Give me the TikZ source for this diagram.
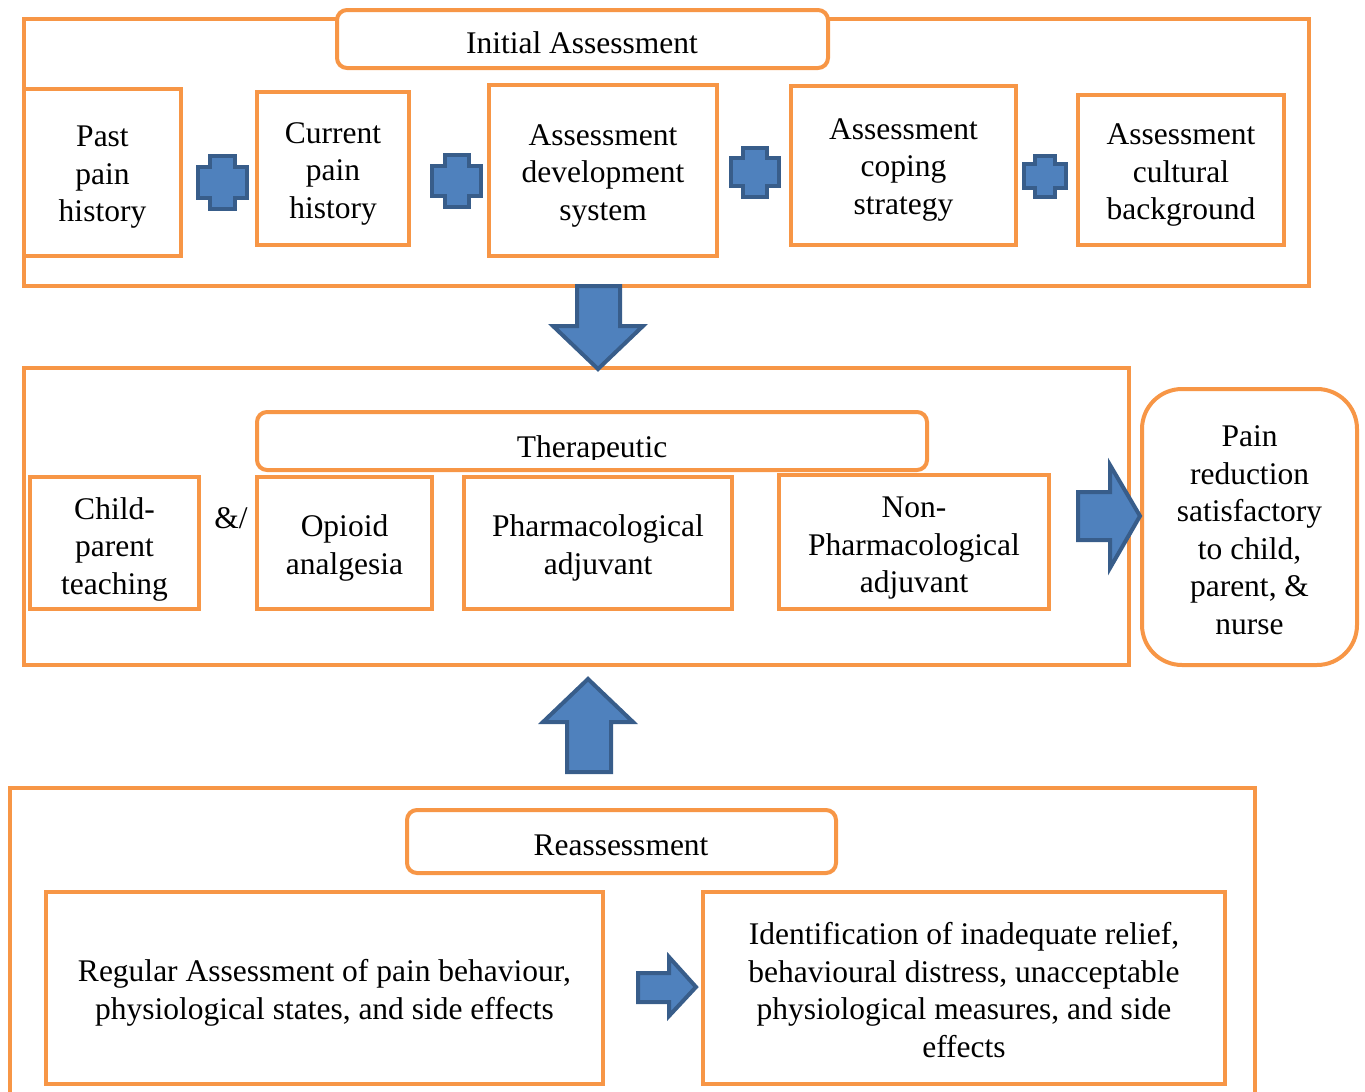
\documentclass[tikz,border=0pt]{standalone}
\usepackage{fontspec}
\setmainfont{Liberation Serif}
\definecolor{frameorange}{HTML}{F79646}
\definecolor{arrowblue}{HTML}{4F81BD}
\definecolor{arrowedge}{HTML}{385D8A}
\newcommand\boxfont{\fontsize{31.5}{37.5}\selectfont}

% rectangular box given by its corners: [text drop] name, x1, y1, x2, y2, style, text
\newcommand\cornerbox[8][5]{%
  \node[#7, minimum width={(#5)-(#3)}, minimum height={(#6)-(#4)}]
    (#2) at ({((#3)+(#5))/2},{((#4)+(#6))/2}) {};
  \node[boxtext] (#2-text) at ([yshift=-#1pt]#2.center) {#8};}

% blue plus sign: centre x, centre y, half width, half height
\newcommand\plussign[4]{%
  \pgfmathsetmacro\ax{0.49*#3}\pgfmathsetmacro\ay{0.59*#4}%
  \draw[blockarrow]
    ({#1-\ax},{#2-#4}) -- ({#1+\ax},{#2-#4}) -- ({#1+\ax},{#2-\ay})
    -- ({#1+#3},{#2-\ay}) -- ({#1+#3},{#2+\ay}) -- ({#1+\ax},{#2+\ay})
    -- ({#1+\ax},{#2+#4}) -- ({#1-\ax},{#2+#4}) -- ({#1-\ax},{#2+\ay})
    -- ({#1-#3},{#2+\ay}) -- ({#1-#3},{#2-\ay}) -- ({#1-\ax},{#2-\ay}) -- cycle;}

\begin{document}
\begin{tikzpicture}[x=1pt,y=-1pt,
  frame/.style={draw=frameorange, line width=4pt, inner sep=0pt},
  titlebox/.style={draw=frameorange, line width=4pt, fill=white, rounded corners=10pt, inner sep=0pt},
  itembox/.style={draw=frameorange, line width=4pt, fill=white, inner sep=0pt},
  roundbox/.style={itembox, rounded corners=40pt},
  boxtext/.style={inner sep=0pt, align=center, font=\boxfont},
  label/.style={font=\boxfont, inner sep=0pt, anchor=base},
  blockarrow/.style={fill=arrowblue, draw=arrowedge, line width=4pt, line join=miter}]

\useasboundingbox (0,0) rectangle (1365,1092);

% ---------- Initial assessment ----------
\cornerbox{initframe}{24}{19}{1309}{286}{frame}{}
\cornerbox{inittitle}{337}{10}{828}{68}{titlebox}{}
\node[label] (inittext) at (582,53) {Initial Assessment};

\cornerbox{past}{24}{89}{181}{256}{itembox}{Past\\pain\\history}
\cornerbox{current}{257}{92}{409}{245}{itembox}{Current\\pain\\history}
\cornerbox{develop}{489}{85}{717}{256}{itembox}{Assessment\\development\\system}
\cornerbox[4]{coping}{791}{86}{1016}{245}{itembox}{Assessment\\coping\\strategy}
\cornerbox{culture}{1078}{95}{1284}{245}{itembox}{Assessment\\cultural\\background}

\plussign{222.5}{182.5}{24.5}{26.5}
\plussign{456.5}{181}{24.5}{26}
\plussign{755}{172}{24}{24.5}
\plussign{1045}{176}{21}{20.5}

% ---------- Therapeutic ----------
\cornerbox{therframe}{24}{368}{1129}{665}{frame}{}
\cornerbox{thertitle}{257}{412}{927}{470}{titlebox}{}
\begin{scope}
  \clip (259,414) rectangle (925,459.5);
  \node[label] (thertext) at (592,457) {Therapeutic};
\end{scope}

\cornerbox[6]{teach}{30}{477}{199}{609}{itembox}{Child-\\parent\\teaching}
\node[label] (andor) at (231,528) {\&/};
\cornerbox{opioid}{257}{477}{432}{609}{itembox}{Opioid\\analgesia}
\cornerbox{pharm}{464}{477}{732}{609}{itembox}{Pharmacological\\adjuvant}
\cornerbox[6.5]{nonpharm}{779}{475}{1049}{609}{itembox}{Non-\\Pharmacological\\adjuvant}

\cornerbox[3]{outcome}{1142}{389}{1357}{665}{roundbox}{Pain\\reduction\\satisfactory\\to child,\\parent, \&\\nurse}

% ---------- Reassessment ----------
\cornerbox{reframe}{10}{788}{1255}{1100}{frame}{}
\cornerbox{retitle}{407}{810}{836}{873}{titlebox}{}
\node[label] (retext) at (621,855) {Reassessment};

\cornerbox{regular}{46}{892}{603}{1084}{itembox}{Regular Assessment of pain behaviour,\\physiological states, and side effects}
\cornerbox[2]{identify}{703}{892}{1225}{1084}{itembox}{Identification of inadequate relief,\\behavioural distress, unacceptable\\physiological measures, and side\\effects}

% ---------- block arrows ----------
% initial assessment down to therapeutic
\draw[blockarrow] (577,286) -- (620,286) -- (620,326) -- (643,326)
  -- (598,369) -- (553,326) -- (577,326) -- cycle;
% therapeutic to outcome
\draw[blockarrow] (1078,492) -- (1110,492) -- (1110,465) -- (1140,516)
  -- (1110,568) -- (1110,540) -- (1078,540) -- cycle;
% reassessment up to therapeutic
\draw[blockarrow] (567,772) -- (611,772) -- (611,722) -- (633,722)
  -- (588,679) -- (543,722) -- (567,722) -- cycle;
% regular assessment to identification
\draw[blockarrow] (638,973) -- (669,973) -- (669,957) -- (696,987)
  -- (669,1016) -- (669,1002) -- (638,1002) -- cycle;

\end{tikzpicture}
\end{document}
